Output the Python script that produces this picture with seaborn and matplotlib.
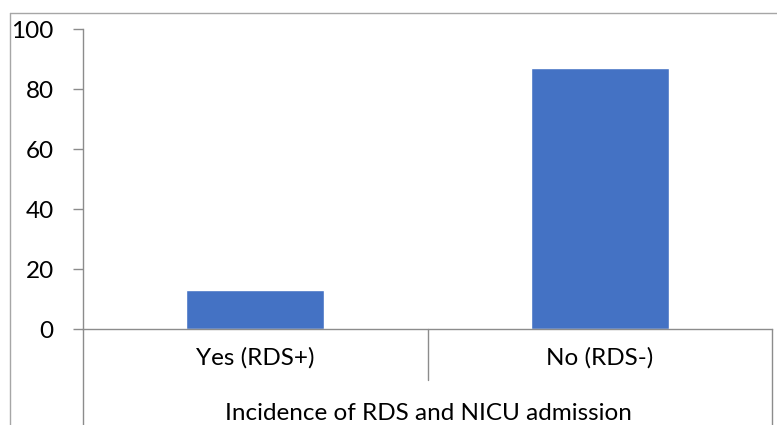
import matplotlib
matplotlib.use("Agg")
import matplotlib.pyplot as plt
import seaborn as sns
import pandas as pd
from matplotlib.lines import Line2D

# data
categories = ['Yes (RDS+)', 'No (RDS-)']
values = [13, 87]
yticks = [0, 20, 40, 60, 80, 100]
group_label = 'Incidence of RDS and NICU admission'

sns.set_style('white')
plt.rcParams['font.family'] = ['Lato', 'DejaVu Sans']

W, H = 777, 425
fig = plt.figure(figsize=(W / 100, H / 100), dpi=100)
ax = fig.add_axes([83 / W, 1 - 329 / H, (772 - 83) / W, 300 / H])

df = pd.DataFrame({'cat': categories, 'val': values})
sns.barplot(data=df, x='cat', y='val', color='#4472C4', saturation=1,
            width=0.4, ax=ax)

ax.set_ylim(0, 100)
ax.set_yticks(yticks)
ax.set_xlim(-0.5, 1.5)
ax.set_xlabel('')
ax.set_ylabel('')
ax.tick_params(axis='y', left=True, direction='out', length=7, width=1,
               color='#8c8c8c', pad=14, labelsize=17.5, labelcolor='black')
ax.tick_params(axis='x', bottom=False, length=0, pad=13, labelsize=17.5,
               labelcolor='black')

for s in ['top', 'right']:
    ax.spines[s].set_visible(False)
for s in ['left', 'bottom']:
    ax.spines[s].set_color('#8c8c8c')
    ax.spines[s].set_linewidth(1)

gray = '#8c8c8c'
# category group lines below the axis
ax.plot([0, 0], [0, -(H - 329) / 300], transform=ax.transAxes, color=gray,
        lw=1, clip_on=False)
ax.plot([0.5, 0.5], [0, -(380 - 329) / 300], transform=ax.transAxes, color=gray,
        lw=1, clip_on=False)
ax.plot([1, 1], [0, -(H - 329) / 300], transform=ax.transAxes, color=gray,
        lw=1, clip_on=False)

fig.text(428 / W, 1 - 414 / H, group_label, ha='center', va='center',
         fontsize=17.5, color='black')

# outer chart frame
fig.add_artist(Line2D([10 / W, 10 / W], [0, 1 - 13 / H], color='#a6a6a6', lw=1))
fig.add_artist(Line2D([10 / W, 1], [1 - 13 / H, 1 - 13 / H], color='#a6a6a6', lw=1))

fig.savefig('out.png', dpi=100)
